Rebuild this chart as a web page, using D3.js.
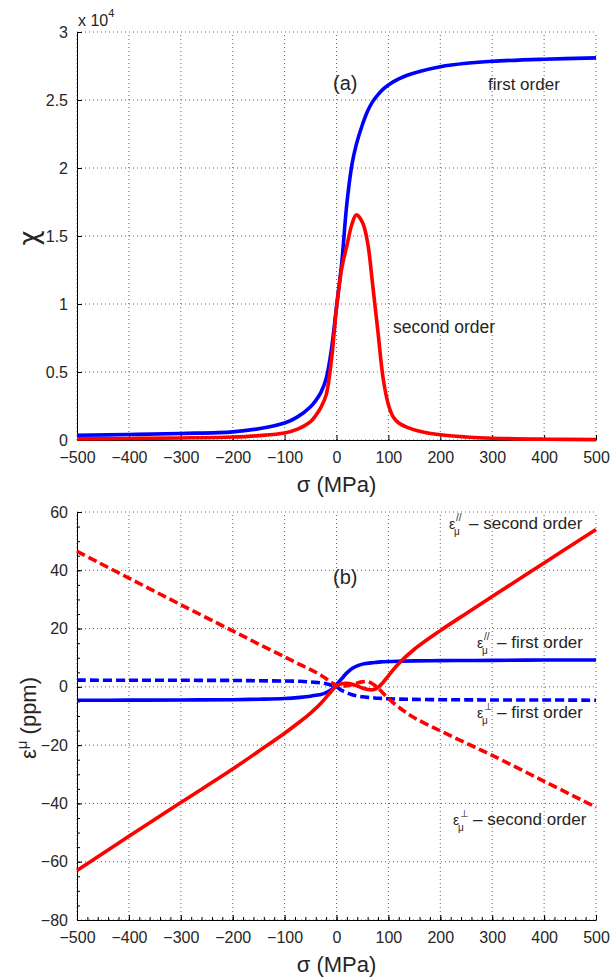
<!DOCTYPE html>
<html>
<head>
<meta charset="utf-8">
<script src="https://cdn.jsdelivr.net/npm/d3@7"></script>
<style>
  body { margin: 0; background: #fff; }
  svg { font-family: "Liberation Sans", Arial, Helvetica, sans-serif; }
</style>
</head>
<body>
<div id="chart"></div>
<script>
// (a) susceptibility, in units of 1e4
const sigmaA = [-500, -400, -300, -200, -150, -100, -75, -50, -40, -30, -20, -10, 0, 10, 20, 30, 38, 50, 60, 70, 80, 90, 100, 110, 120, 135, 160, 200, 250, 300, 400, 500];
const chiFirst = [0.035, 0.04, 0.048, 0.06, 0.083, 0.125, 0.17, 0.245, 0.29, 0.35, 0.45, 0.66, 0.98, 1.30, 1.74, 2.03, 2.17, 2.32, 2.42, 2.49, 2.54, 2.58, 2.61, 2.635, 2.655, 2.68, 2.71, 2.745, 2.77, 2.785, 2.80, 2.81];
const chiSecond = [0.008, 0.011, 0.015, 0.022, 0.032, 0.052, 0.08, 0.135, 0.18, 0.24, 0.33, 0.58, 0.97, 1.26, 1.43, 1.59, 1.655, 1.60, 1.45, 1.13, 0.79, 0.45, 0.26, 0.165, 0.125, 0.095, 0.065, 0.038, 0.022, 0.013, 0.006, 0.003];

// (b) magnetostriction, ppm
const sigmaB = [-500, -400, -300, -200, -150, -100, -70, -50, -40, -30, -20, -10, 0, 10, 20, 30, 40, 50, 60, 70, 80, 90, 100, 120, 150, 200, 250, 300, 400, 500];
const epsParFirst = [-4.6, -4.55, -4.5, -4.4, -4.25, -4.0, -3.6, -3.2, -2.9, -2.6, -2.0, -1.0, 0.8, 2.8, 4.8, 6.3, 7.2, 7.8, 8.1, 8.3, 8.5, 8.6, 8.7, 8.8, 8.9, 9.0, 9.05, 9.1, 9.2, 9.2];
const epsPerpFirst = [2.3, 2.28, 2.25, 2.2, 2.1, 2.0, 1.9, 1.7, 1.55, 1.4, 1.1, 0.6, 0.0, -1.2, -2.0, -2.7, -3.1, -3.4, -3.6, -3.75, -3.9, -4.0, -4.1, -4.2, -4.3, -4.4, -4.45, -4.5, -4.5, -4.6];
const epsParSecond = [-63, -51.3, -39.7, -28.2, -22.1, -15.9, -11.9, -9.0, -7.4, -5.6, -3.6, -1.5, 0.4, 1.1, 1.2, 0.9, 0.3, -0.4, -0.9, -1.0, -0.2, 1.6, 3.8, 8.0, 12.9, 19.3, 25.2, 31, 42.5, 54];
const epsPerpSecond = [46.5, 37.3, 28.2, 19.2, 14.7, 10.3, 7.6, 5.9, 5.0, 4.0, 2.8, 1.5, 0.6, 0.3, 0.4, 0.8, 1.3, 1.7, 1.8, 1.0, -0.4, -2.2, -4.0, -7.0, -10.6, -15.1, -19.3, -23.5, -32.4, -41.3];

const xTicks = d3.range(-500, 501, 100);
const chiTicks = [0, 0.5, 1, 1.5, 2, 2.5, 3];
const epsTicks = d3.range(-80, 61, 20);

const W = 614, H = 977;
const svg = d3.select("#chart").append("svg")
    .attr("width", W)
    .attr("height", H);

const x = d3.scaleLinear().domain([-500, 500]).range([77, 596]);
const yA = d3.scaleLinear().domain([0, 3]).range([440, 32]);
const yB = d3.scaleLinear().domain([-80, 60]).range([920, 512]);

const textCol = "#262626";

function drawPanel(y, yTicks, yFmt, minor) {
    const g = svg.append("g");
    const [y0, y1] = y.range();

    // dotted grid
    g.append("g").selectAll("line.v")
        .data(xTicks)
        .enter().append("line")
        .attr("x1", d => x(d)).attr("x2", d => x(d))
        .attr("y1", y0).attr("y2", y1)
        .attr("stroke", "#000").attr("stroke-width", 1)
        .attr("stroke-dasharray", "1,3").attr("opacity", 0.6);
    g.append("g").selectAll("line.h")
        .data(yTicks)
        .enter().append("line")
        .attr("x1", x(-500)).attr("x2", x(500))
        .attr("y1", d => y(d)).attr("y2", d => y(d))
        .attr("stroke", "#000").attr("stroke-width", 1)
        .attr("stroke-dasharray", "1,3").attr("opacity", 0.6);

    if (minor) {
        g.append("g")
            .attr("transform", `translate(0,${y0})`)
            .call(d3.axisBottom(x).tickValues(d3.range(-500, 501, 20)).tickSize(-3).tickFormat(""))
            .call(s => s.select(".domain").remove());
        g.append("g")
            .attr("transform", `translate(${x(-500)},0)`)
            .call(d3.axisLeft(y).tickValues(d3.range(-80, 61, 5)).tickSize(-3).tickFormat(""))
            .call(s => s.select(".domain").remove());
    }

    const ax = g.append("g")
        .attr("transform", `translate(0,${y0})`)
        .call(d3.axisBottom(x).tickValues(xTicks).tickSizeInner(-5).tickSizeOuter(0).tickPadding(12));
    ax.selectAll("text").attr("font-size", 16).attr("fill", textCol).attr("font-family", "Liberation Sans, Arial, sans-serif");

    const ay = g.append("g")
        .attr("transform", `translate(${x(-500)},0)`)
        .call(d3.axisLeft(y).tickValues(yTicks).tickFormat(yFmt).tickSizeInner(-5).tickSizeOuter(0).tickPadding(9));
    ay.selectAll("text").attr("font-size", 16).attr("fill", textCol).attr("font-family", "Liberation Sans, Arial, sans-serif");

    g.selectAll(".domain").attr("stroke", "#000").attr("stroke-width", 1);
    g.selectAll(".tick line").attr("stroke", "#000");

    // x label
    g.append("text")
        .attr("x", x(0))
        .attr("y", y0 + 52)
        .attr("text-anchor", "middle")
        .attr("font-size", 22)
        .attr("fill", textCol)
        .text("σ (MPa)");
    return g;
}

const fmtA = d => d3.format("")(d);
const panelA = drawPanel(yA, chiTicks, fmtA, false);
const panelB = drawPanel(yB, epsTicks, d3.format("d"), true);

function drawLine(g, xs, ys, y, color, dash) {
    const pts = xs.map((s, i) => [s, ys[i]]);
    const line = d3.line()
        .x(d => x(d[0]))
        .y(d => y(d[1]))
        .curve(d3.curveCatmullRom.alpha(0.5));
    g.append("path")
        .datum(pts)
        .attr("d", line)
        .attr("fill", "none")
        .attr("stroke", color)
        .attr("stroke-width", 3.6)
        .attr("stroke-linejoin", "round")
        .attr("stroke-dasharray", dash || null);
}

drawLine(panelA, sigmaA, chiFirst, yA, "#0000ff");
drawLine(panelA, sigmaA, chiSecond, yA, "#ff0000");

drawLine(panelB, sigmaB, epsParFirst, yB, "#0000ff");
drawLine(panelB, sigmaB, epsPerpFirst, yB, "#0000ff", "9,4");
drawLine(panelB, sigmaB, epsParSecond, yB, "#ff0000");
drawLine(panelB, sigmaB, epsPerpSecond, yB, "#ff0000", "9,4");

// panel (a) texts
const mult = svg.append("text").attr("x", 78).attr("y", 26).attr("font-size", 16).attr("fill", textCol);
mult.append("tspan").text("x 10");
mult.append("tspan").attr("dy", -9).attr("font-size", 11).text("4");

svg.append("text")
    .attr("transform", "translate(38,238) rotate(-90)")
    .attr("text-anchor", "middle")
    .attr("font-size", 26)
    .attr("font-family", "DejaVu Sans, sans-serif")
    .attr("fill", textCol)
    .text("χ");

function note(xp, yp, size, str) {
    svg.append("text").attr("x", xp).attr("y", yp)
        .attr("font-size", size).attr("fill", textCol).text(str);
}
note(333, 90, 20, "(a)");
note(488, 90, 17, "first order");
note(393, 333, 17.5, "second order");
note(333, 584, 20, "(b)");

// y label of (b)
const yl = svg.append("text")
    .attr("transform", "translate(36,718) rotate(-90)")
    .attr("text-anchor", "middle")
    .attr("font-size", 22)
    .attr("fill", textCol);
yl.append("tspan").text("ε");
yl.append("tspan").attr("dy", -9).attr("font-size", 15).text("μ");
yl.append("tspan").attr("dy", 9).text(" (ppm)");

function epsLabel(xp, yp, sup, tail) {
    const g = svg.append("g").attr("fill", textCol);
    g.append("text").attr("x", xp).attr("y", yp).attr("font-size", 14).text("ε");
    g.append("text").attr("x", xp + 7).attr("y", yp - 8).attr("font-size", 10).text(sup);
    g.append("text").attr("x", xp + 5).attr("y", yp + 6).attr("font-size", 10).text("μ");
    g.append("text").attr("x", xp + 20).attr("y", yp).attr("font-size", 17).text(tail);
}
epsLabel(449, 529, "//", "– second order");
epsLabel(477, 648, "//", "– first order");
epsLabel(477, 718, "⊥", "– first order");
epsLabel(453, 825, "⊥", "– second order");
</script>
</body>
</html>
